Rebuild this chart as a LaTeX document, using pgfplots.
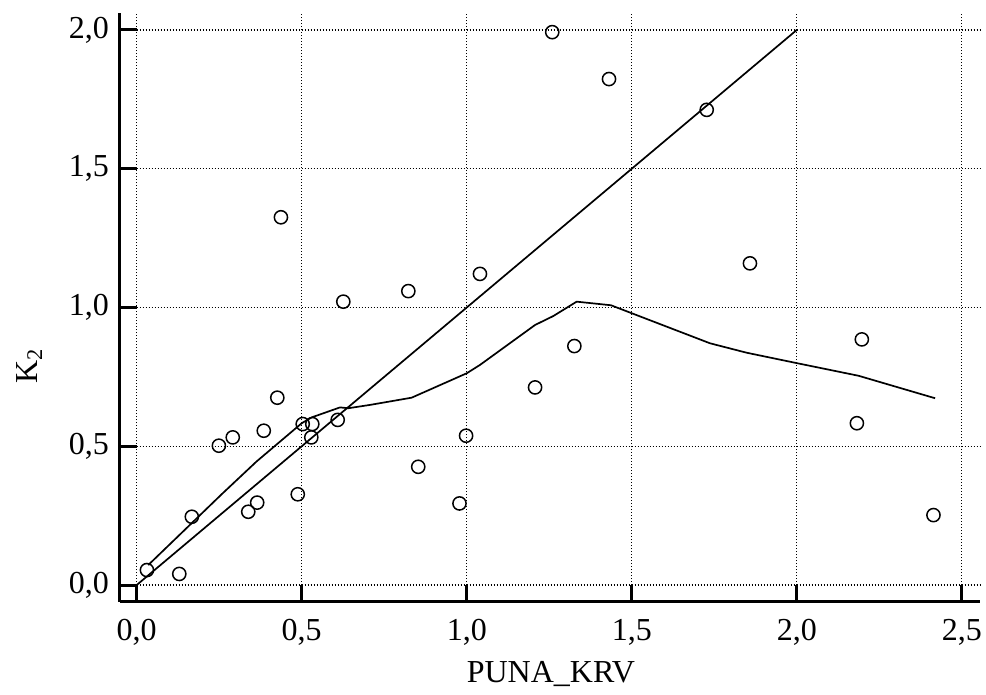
\documentclass[border=0pt]{standalone}
\usepackage{fontspec}
\setmainfont{Liberation Serif}
\usepackage{pgfplots}
\pgfplotsset{compat=1.18}

% observed points
\pgfplotstableread{
x y
0.031 0.054
0.129 0.040
0.167 0.246
0.249 0.502
0.291 0.532
0.338 0.264
0.365 0.297
0.385 0.556
0.426 0.675
0.437 1.325
0.488 0.327
0.503 0.580
0.532 0.580
0.529 0.532
0.609 0.595
0.626 1.021
0.823 1.059
0.853 0.426
0.978 0.294
0.998 0.538
1.040 1.121
1.207 0.712
1.259 1.992
1.326 0.861
1.431 1.823
1.727 1.712
1.858 1.159
2.182 0.583
2.197 0.885
2.414 0.252
}\pts

% smoothed curve
\pgfplotstableread{
x y
0.035 0.072
0.260 0.330
0.363 0.445
0.500 0.583
0.530 0.604
0.616 0.640
0.641 0.637
0.707 0.649
0.833 0.675
1.000 0.763
1.040 0.793
1.207 0.937
1.262 0.969
1.333 1.021
1.437 1.008
1.737 0.871
1.848 0.837
2.002 0.799
2.187 0.754
2.419 0.673
}\smooth

\tikzset{gridline/.style={line width=0.6pt, dash pattern=on 0.6pt off 0.9pt}}

\begin{document}
\begin{tikzpicture}
\fontsize{16}{19}\selectfont
\begin{axis}[
    name=ax,
    scale only axis,
    width=430pt, height=294.35pt,
    xmin=-0.0506, xmax=2.555,
    ymin=-0.060, ymax=2.061,
    axis lines*=left,
    axis line style={line width=1.5pt},
    tick align=inside,
    major tick length=8.3pt,
    tick style={line width=1.5pt, black},
    xtick={0,0.5,1,1.5,2,2.5},
    ytick={0,0.5,1,1.5,2},
    minor tick num=0,
    /pgf/number format/.cd, fixed, fixed zerofill, precision=1, use comma, assume math mode=true,
    /pgfplots/.cd,
    tick label style={font=\fontsize{16}{19}\selectfont},
    xticklabel style={anchor=base, yshift=-19.2pt},
    label style={font=\fontsize{16}{19}\selectfont},
    every axis x label/.style={at={(axis description cs:0.501,-0.1365)}, anchor=base},
    every axis y label/.style={at={(axis description cs:-0.0965,0.40)}, anchor=base, rotate=90},
    xlabel={PUNA\_KRV},
    ylabel={K\textsubscript{2}},
    clip=false,
]
\pgfplotsinvokeforeach{0,0.5,1,1.5,2,2.5}{
    \draw[gridline] (axis cs:#1,0) -- (axis cs:#1,2.061);
}
\pgfplotsinvokeforeach{0,0.5,1,1.5,2}{
    \draw[gridline] (axis cs:0,#1) -- (axis cs:2.555,#1);
}
\addplot[black, line width=0.85pt] coordinates {(0,0) (2,2)};
\addplot[black, line width=0.85pt] table {\smooth};
\addplot[only marks, mark=o, mark size=3.3pt, mark options={line width=0.75pt, black}] table {\pts};
\end{axis}
\pgfresetboundingbox
\path (ax.south west) ++(-60pt,-46.65pt) rectangle ++(493pt,347.5pt);
\end{tikzpicture}
\end{document}
